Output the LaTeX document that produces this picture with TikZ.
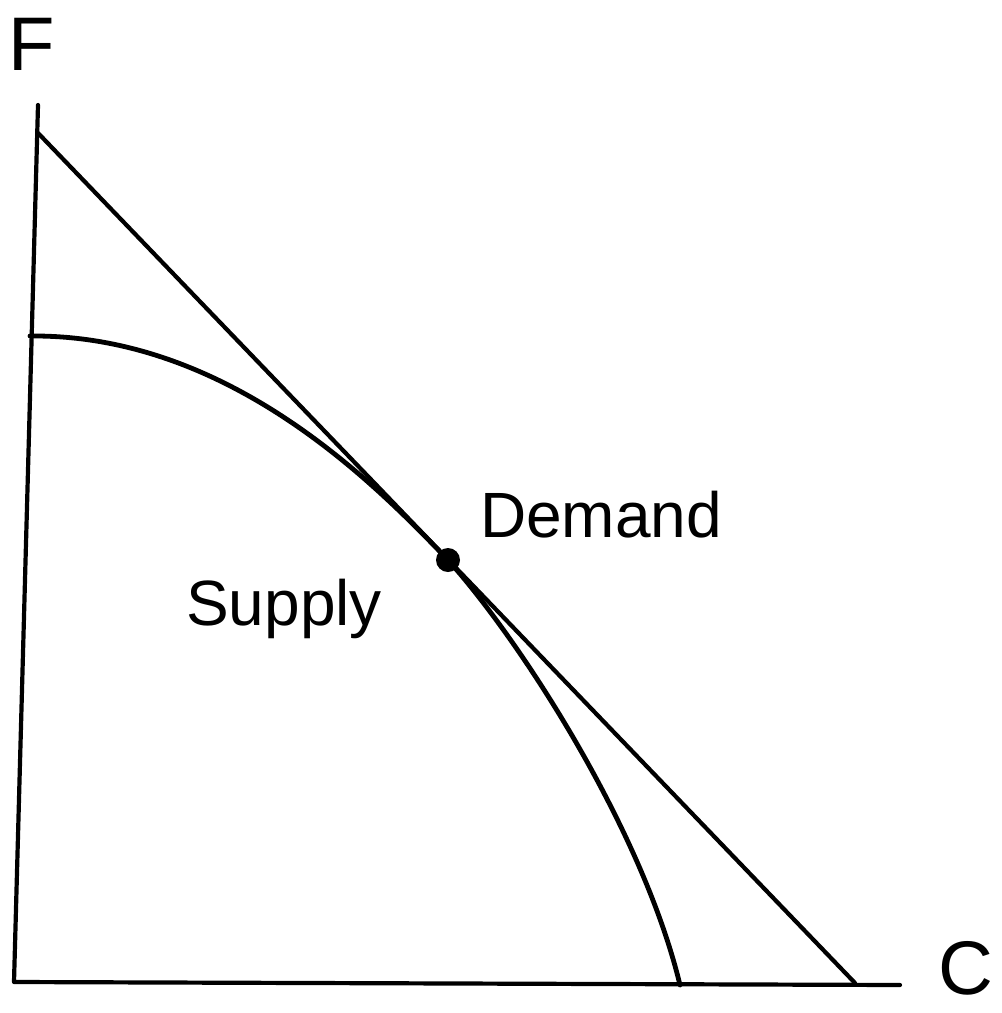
\documentclass[tikz,border=0pt]{standalone}
\usepackage{fontspec}
\setmainfont{Liberation Sans}
\begin{document}
\begin{tikzpicture}[x=1pt,y=-1pt,
  axisline/.style={line width=4.2pt,line cap=round,line join=round},
  curveline/.style={line width=4.8pt,line cap=round},
  lbl/.style={font=\fontsize{64}{70}\selectfont,inner sep=0pt,anchor=base west},
  axlbl/.style={font=\fontsize{76}{86}\selectfont,inner sep=0pt,anchor=base west}]
\useasboundingbox (0,0) rectangle (1002,1013);
\fill[white] (0,0) rectangle (1002,1013);
% axes
\coordinate (Ytop) at (38,105);
\coordinate (O) at (14,982);
\coordinate (Xend) at (900,985);
\draw[axisline] (Ytop) -- (O) -- (Xend);
% budget (demand) line
\coordinate (B1) at (38,133);
\coordinate (B2) at (855,983);
\draw[axisline] (B1) -- (B2);
% supply curve
\coordinate (S0) at (30,336);
\coordinate (E) at (448,560);
\coordinate (S1) at (680,985);
\draw[curveline] (S0) .. controls (230,334) and (378,487) .. (E)
  .. controls (520,640) and (642,828) .. (S1);
\fill (E) circle (12);
% labels
\node[lbl] (dem) at (480,537) {Demand};
\node[lbl] (sup) at (186,625) {Supply};
\node[axlbl] (F) at (8,70) {F};
\node[axlbl] (C) at (938,994) {C};
\end{tikzpicture}
\end{document}
